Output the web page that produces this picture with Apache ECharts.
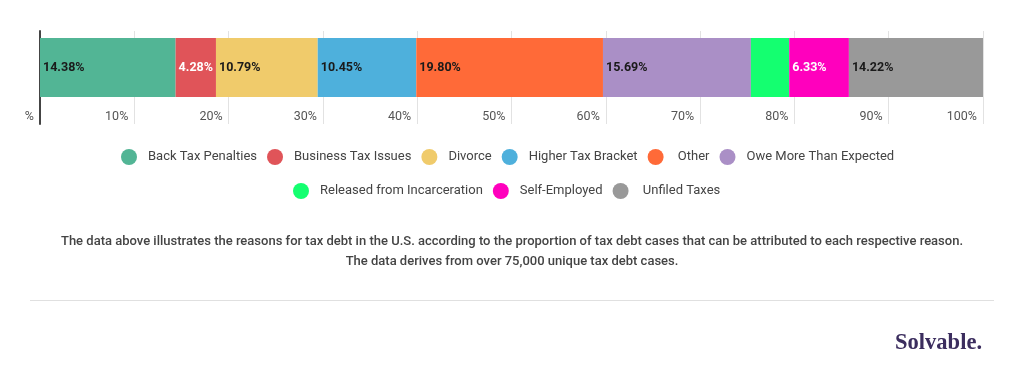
<!DOCTYPE html>
<html><head><meta charset="utf-8">
<script src="https://cdn.jsdelivr.net/npm/echarts@6/dist/echarts.min.js"></script>
<style>html,body{margin:0;padding:0;background:#fff}#c{width:1024px;height:382px}</style>
</head><body><div id="c"></div>
<script>
const categories = ['Back Tax Penalties','Business Tax Issues','Divorce','Higher Tax Bracket','Other','Owe More Than Expected','Released from Incarceration','Self-Employed','Unfiled Taxes'];
const values = [14.38, 4.28, 10.79, 10.45, 19.80, 15.69, 4.06, 6.33, 14.22];
const legendRow1 = categories.slice(0, 6);
const legendRow2 = categories.slice(6);
const caption = 'The data above illustrates the reasons for tax debt in the U.S. according to the proportion of tax debt cases that can be attributed to each respective reason.\nThe data derives from over 75,000 unique tax debt cases.';
const brand = 'Solvable.';

const palette = ['#52b595','#e05459','#f0cb6b','#4eb0dc','#ff6a38','#aa8fc6','#14ff70','#ff00bd','#999999'];
const whiteLabel = ['#e05459','#ff00bd'];
const paddedLegend = ['Other','Unfiled Taxes'];
const font = 'Roboto';

const series = categories.map((name, i) => ({
  name, type: 'bar', stack: 'all', xAxisIndex: 0, yAxisIndex: 0,
  barWidth: '100%',
  data: [values[i]],
  itemStyle: { color: palette[i] },
  label: {
    show: values[i] > 4.1,
    position: 'insideLeft',
    distance: 3,
    formatter: p => p.value.toFixed(2) + '%',
    fontFamily: font, fontSize: 12.5, fontWeight: 'bold',
    color: whiteLabel.includes(palette[i]) ? '#ffffff' : '#1a1a1a'
  },
  emphasis: { disabled: true }
}));

const legendBase = {
  icon: 'circle', itemWidth: 16, itemHeight: 16, itemGap: 10,
  selectedMode: false,
  formatter: n => paddedLegend.includes(n) ? ' ' + n : n,
  textStyle: { color: '#444', fontFamily: font, fontSize: 13, padding: [0, 0, 0, 6] }
};

const chart = echarts.init(document.getElementById('c'), null, { renderer: 'canvas' });
chart.setOption({
  animation: false,
  color: palette,
  grid: [
    { left: 40, right: 41, top: 38, height: 59 },
    { left: 40, right: 41, top: 31, height: 93 }
  ],
  xAxis: [
    { gridIndex: 0, type: 'value', min: 0, max: 100, show: false },
    { gridIndex: 1, type: 'value', min: 0, max: 100, interval: 10,
      axisLine: { show: false }, axisTick: { show: false },
      splitLine: { show: true, lineStyle: { color: '#e2e2e2', width: 1 } },
      axisLabel: { inside: true, margin: 1, align: 'right', padding: [0, 6, 0, 0],
        color: '#555', fontFamily: font, fontSize: 12.5,
        formatter: v => v === 0 ? '%' : v + '%' } }
  ],
  yAxis: [
    { gridIndex: 0, type: 'category', data: [''], show: false },
    { gridIndex: 1, type: 'category', data: [''],
      axisLine: { show: true, lineStyle: { color: '#444', width: 2 } },
      axisTick: { show: false }, axisLabel: { show: false }, splitLine: { show: false } }
  ],
  legend: [
    Object.assign({ data: legendRow1, top: 144, left: 116 }, legendBase),
    Object.assign({ data: legendRow2, top: 178, left: 288 }, legendBase)
  ],
  title: [
    { text: caption, left: 'center', top: 226,
      textStyle: { color: '#444', fontFamily: font, fontSize: 13, fontWeight: 500, lineHeight: 20.5, align: 'center' } },
    { text: brand, right: 37, top: 327,
      textStyle: { color: '#3b2d5e', fontFamily: 'Liberation Serif', fontSize: 22.5, fontWeight: 'bold' } }
  ],
  graphic: [
    { type: 'line', shape: { x1: 30, y1: 300.5, x2: 994, y2: 300.5 }, style: { stroke: '#e0e0e0', lineWidth: 1 }, silent: true }
  ],
  series
});
</script></body></html>
